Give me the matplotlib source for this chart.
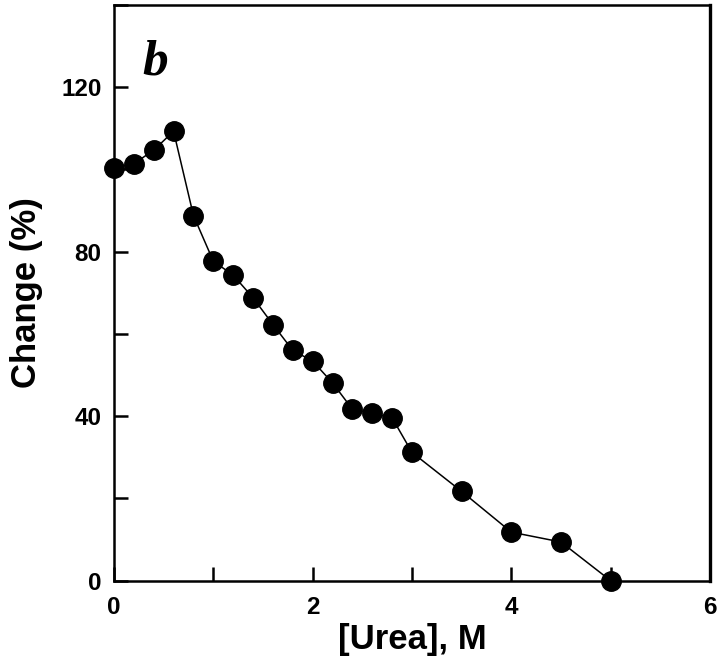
import matplotlib
matplotlib.use("Agg")
import matplotlib.pyplot as plt
from matplotlib.ticker import MultipleLocator

urea = [0.0, 0.2, 0.4, 0.6, 0.8, 1.0, 1.2, 1.4, 1.6, 1.8, 2.0, 2.2, 2.4, 2.6, 2.8, 3.0, 3.5, 4.0, 4.5, 5.0]
change = [100.4, 101.4, 104.7, 109.3, 88.8, 77.7, 74.3, 68.8, 62.3, 56.0, 53.4, 48.1, 41.7, 40.7, 39.6, 31.2, 21.7, 11.8, 9.4, 0.0]

xticks = [0, 2, 4, 6]
yticks = [0, 40, 80, 120]

plt.rcParams['font.family'] = ['Liberation Sans', 'DejaVu Sans']

fig = plt.figure(figsize=(7.2, 6.6), dpi=100)
ax = fig.add_axes([0.1583, 0.1202, 0.8278, 0.8722])

ax.plot(urea, change, color='black', lw=1.1, marker='o', ms=14, mfc='black', mec='black',
        clip_on=False, zorder=3)

ax.set_xlim(0, 6)
ax.set_ylim(0, 140)
ax.set_xticks(xticks)
ax.set_yticks(yticks)
ax.xaxis.set_minor_locator(MultipleLocator(1))
ax.yaxis.set_minor_locator(MultipleLocator(20))
ax.tick_params(which='both', direction='in', length=10, width=1.8, labelsize=17.5,
               top=False, right=False)
ax.tick_params(axis='x', which='both', pad=11)
ax.tick_params(axis='y', which='both', pad=9)
for lab in ax.get_xticklabels() + ax.get_yticklabels():
    lab.set_fontweight('bold')
for sp in ax.spines.values():
    sp.set_linewidth(1.8)
ax.spines['right'].set_linewidth(2.4)

ax.set_xlabel('[Urea], M', fontsize=25, fontweight='bold', labelpad=3)
ax.set_ylabel('Change (%)', fontsize=25, fontweight='bold', labelpad=13)

ax.text(0.29, 123, 'b', fontsize=37, fontweight='bold', fontstyle='italic',
        family=['Liberation Serif', 'DejaVu Serif'], va='baseline', ha='left')

fig.savefig('out.png', dpi=100)
